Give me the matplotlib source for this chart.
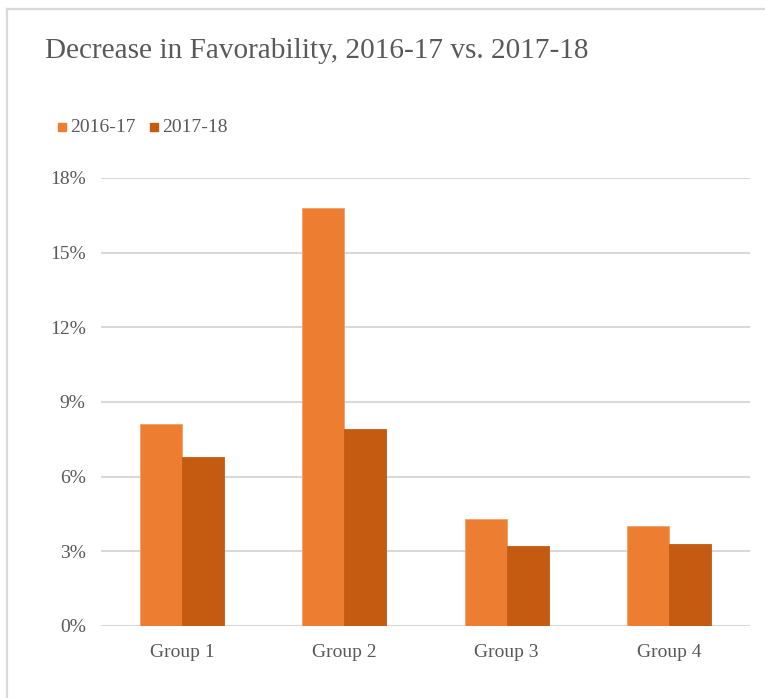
import matplotlib
matplotlib.use("Agg")
import matplotlib.pyplot as plt
from matplotlib.lines import Line2D
from matplotlib.patches import Rectangle
import numpy as np

# Chart data
groups = ["Group 1", "Group 2", "Group 3", "Group 4"]
series_names = ["2016-17", "2017-18"]
values_1617 = [8.1, 16.8, 4.3, 4.0]
values_1718 = [6.8, 7.9, 3.2, 3.3]
yticks = [0, 3, 6, 9, 12, 15, 18]
ytick_labels = ["0%", "3%", "6%", "9%", "12%", "15%", "18%"]

colors = ["#ED7D31", "#C55A11"]
text_color = "#595959"
grid_color = "#D9D9D9"
serif = ["Liberation Serif", "DejaVu Serif"]

W, H, DPI = 765, 698, 100
fig = plt.figure(figsize=(W / DPI, H / DPI), dpi=DPI)
fig.patch.set_facecolor("white")

# Frame around the chart area (top and left edges)
fig.add_artist(Line2D([7 / W, 7 / W], [0, 1 - 9 / H], transform=fig.transFigure,
                      color=grid_color, lw=1.6))
fig.add_artist(Line2D([7 / W, 1], [1 - 9 / H, 1 - 9 / H], transform=fig.transFigure,
                      color=grid_color, lw=1.6))

left, right, top, bottom = 101, 750, 178, 626
ax = fig.add_axes([left / W, 1 - bottom / H, (right - left) / W, (bottom - top) / H])

x = np.arange(len(groups))
bw = 0.259
ax.bar(x - bw / 2, values_1617, width=bw, color=colors[0], zorder=3,
       edgecolor="#F2A06A", linewidth=0.6)
ax.bar(x + bw / 2, values_1718, width=bw, color=colors[1], zorder=3,
       edgecolor="#C55A11", linewidth=0.6)

ax.set_xlim(-0.5, len(groups) - 0.5)
ax.set_ylim(0, 18)
ax.set_yticks(yticks)
ax.set_yticklabels(ytick_labels)
ax.set_xticks(x)
ax.set_xticklabels(groups)

for y in yticks:
    ax.axhline(y, color=grid_color, lw=1.5, zorder=1)

for s in ax.spines.values():
    s.set_visible(False)
ax.tick_params(axis="both", length=0, labelsize=14, colors=text_color)
ax.tick_params(axis="y", pad=11)
ax.tick_params(axis="x", pad=13)
for lbl in ax.get_xticklabels() + ax.get_yticklabels():
    lbl.set_family(serif)
    lbl.set_color(text_color)

# Title
fig.text(45 / W, 1 - 51 / H, "Decrease in Favorability, 2016-17 vs. 2017-18",
         family=serif, fontsize=21.1, color=text_color, ha="left", va="center")

# Legend
legend_items = [(58, series_names[0], colors[0]), (150, series_names[1], colors[1])]
for px, name, c in legend_items:
    fig.add_artist(Rectangle((px / W, 1 - 131 / H), 8 / W, 8 / H,
                             transform=fig.transFigure, color=c))
    fig.text((px + 12) / W, 1 - 127 / H, name, family=serif, fontsize=14,
             color=text_color, ha="left", va="center")

fig.savefig("out.png", dpi=DPI)
